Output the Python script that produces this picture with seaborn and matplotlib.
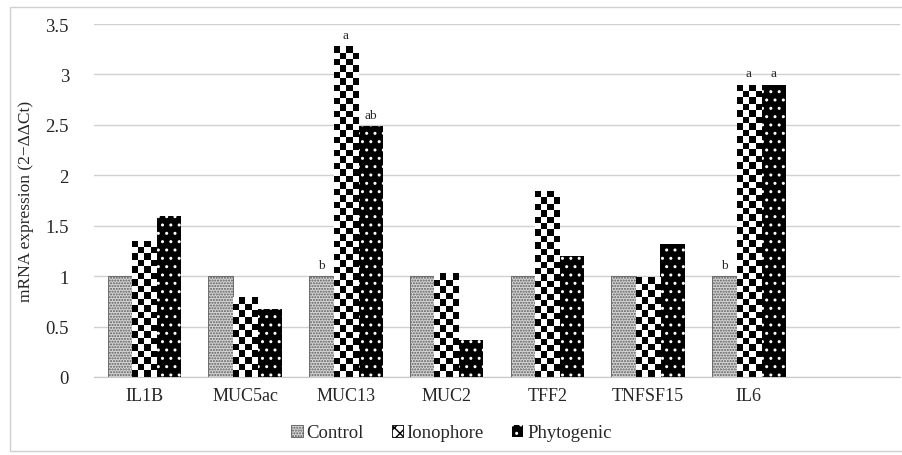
import numpy as np
import pandas as pd
import matplotlib
matplotlib.use("Agg")
import matplotlib.pyplot as plt
import seaborn as sns
from matplotlib.patches import Rectangle, Patch

genes = ["IL1B", "MUC5ac", "MUC13", "MUC2", "TFF2", "TNFSF15", "IL6"]
treatments = ["Control", "Ionophore", "Phytogenic"]
control = [1.0, 1.0, 1.0, 1.0, 1.0, 1.0, 1.0]
ionophore = [1.35, 0.79, 3.28, 1.03, 1.84, 0.99, 2.90]
phytogenic = [1.60, 0.67, 2.49, 0.37, 1.20, 1.32, 2.90]
letters = {("MUC13", "Control"): "b", ("MUC13", "Ionophore"): "a", ("MUC13", "Phytogenic"): "ab",
           ("IL6", "Control"): "b", ("IL6", "Ionophore"): "a", ("IL6", "Phytogenic"): "a"}

df = pd.DataFrame({
    "gene": genes * 3,
    "treatment": [t for t in treatments for _ in genes],
    "value": control + ionophore + phytogenic,
})

sns.set_style("white")
plt.rcParams["font.family"] = ["Liberation Serif", "DejaVu Serif"]
plt.rcParams["hatch.linewidth"] = 1.0

fig = plt.figure(figsize=(9.03, 4.56), dpi=100)
ax = fig.add_axes([94 / 903, 78 / 456, 806 / 903, 353 / 456])

sns.barplot(data=df, x="gene", y="value", hue="treatment", order=genes,
            hue_order=treatments, width=0.73, ax=ax, legend=False,
            palette=["white", "white", "black"], saturation=1)

ax.set_xlim(-0.5, 7.5)
ax.set_ylim(0, 3.5)
ax.set_yticks(np.arange(0, 3.51, 0.5))
ax.set_yticklabels(["0", "0.5", "1", "1.5", "2", "2.5", "3", "3.5"], fontsize=13.5)
ax.grid(axis="y", color="#d0d0d0", linewidth=1)
ax.set_axisbelow(True)
for s in ["top", "right", "left"]:
    ax.spines[s].set_visible(False)
ax.spines["bottom"].set_color("#c8c8c8")
ax.tick_params(axis="y", length=0, pad=18)
ax.tick_params(axis="x", length=0, labelsize=13, pad=7)
ax.set_xlabel("")
ax.set_ylabel("mRNA expression (2\u2212\u0394\u0394Ct)", fontsize=12.5, labelpad=8)

bars = [p for p in ax.patches if isinstance(p, Rectangle) and p.get_width() > 0]
n = len(genes)
fig.canvas.draw()
for i, p in enumerate(bars):
    t = treatments[i // n]
    g = genes[i % n]
    if t == "Control":
        p.set_facecolor("#d6d6d6")
        p.set_edgecolor("#5a5a5a")
        p.set_hatch("......")
        p.set_linewidth(0.6)
    elif t == "Ionophore":
        p.set_facecolor("white")
        p.set_edgecolor("none")
        x0, y0 = p.get_x(), p.get_y()
        w, h = p.get_width(), p.get_height()
        disp = ax.transData.transform([[x0, y0], [x0 + w, y0 + h]])
        pw = abs(disp[1, 0] - disp[0, 0])
        ph = abs(disp[1, 1] - disp[0, 1])
        sq = 6.5
        nx = max(1, int(round(pw / sq)))
        ny = max(1, int(round(ph / sq)))
        ii, jj = np.indices((ny, nx))
        img = ((ii + jj) % 2).astype(float)
        im = ax.imshow(img, cmap="gray", extent=(x0, x0 + w, y0, y0 + h),
                       interpolation="nearest", aspect="auto", origin="lower",
                       vmin=0, vmax=1, zorder=p.get_zorder() + 0.1)
        im.set_clip_path(p)
    else:
        p.set_facecolor("black")
        p.set_edgecolor("white")
        p.set_hatch("..")
        p.set_linewidth(0)
    if (g, t) in letters:
        ax.text(p.get_x() + p.get_width() / 2, p.get_height() + 0.05, letters[(g, t)],
                ha="center", va="bottom", fontsize=9.5)

ax.set_xlim(-0.5, 7.5)
ax.set_ylim(0, 3.5)

handles = [
    Patch(facecolor="#d6d6d6", edgecolor="#5a5a5a", hatch="......", linewidth=0.6, label="Control"),
    Patch(facecolor="white", edgecolor="black", hatch="xxx", linewidth=0.6, label="Ionophore"),
    Patch(facecolor="black", edgecolor="white", hatch="..", linewidth=0, label="Phytogenic"),
]
fig.legend(handles=handles, loc="center", bbox_to_anchor=(0.5, 22 / 456),
           ncol=3, frameon=False, fontsize=13.5, handlelength=0.6, handleheight=0.6,
           handletextpad=0.2, columnspacing=1.5)

fig.patches.append(Rectangle((10 / 903, 4 / 456), 0.995, 444 / 456, transform=fig.transFigure,
                             fill=False, edgecolor="#d0d0d0", linewidth=1))

fig.savefig("out.png", dpi=100)
